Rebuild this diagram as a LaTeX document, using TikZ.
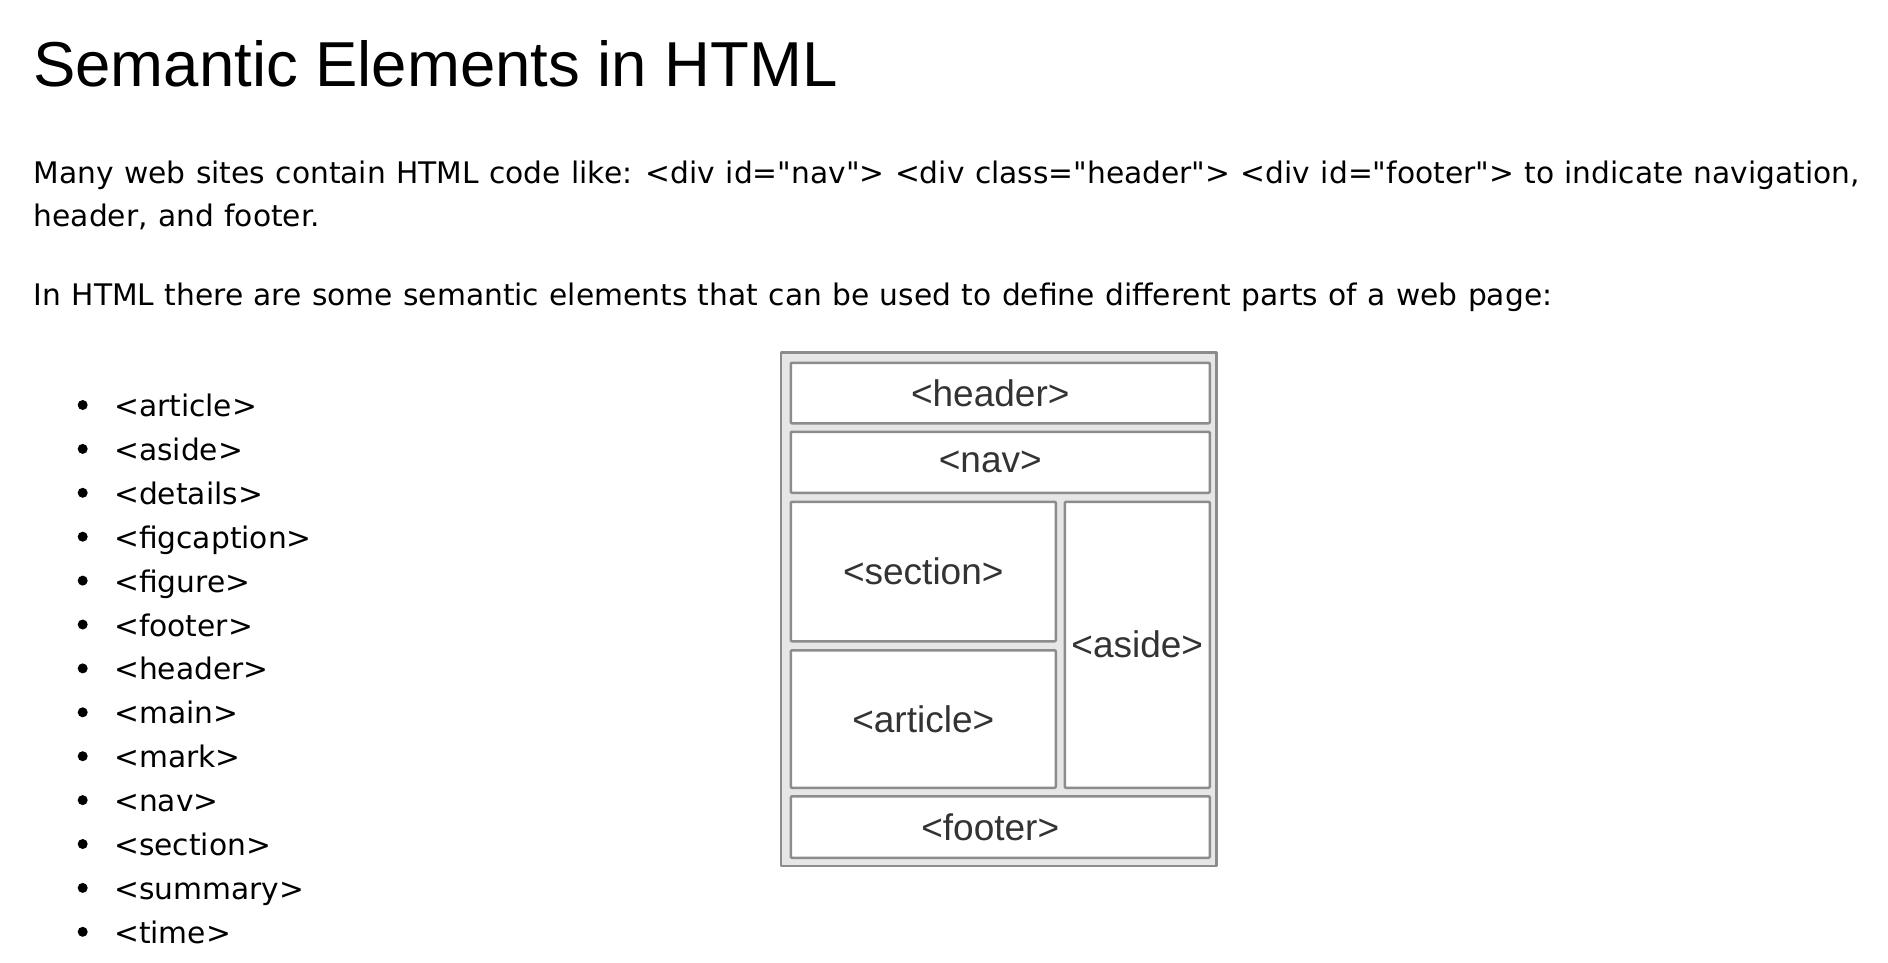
\documentclass[tikz,border=0pt]{standalone}
\usepackage{fontspec}
\setmainfont{DejaVu Sans}
\newfontfamily\arialfont{Liberation Sans}
\definecolor{framegray}{RGB}{140,140,140}
\definecolor{framefill}{RGB}{230,230,230}
\definecolor{labelgray}{RGB}{51,51,51}
\tikzset{
    bodytext/.style={anchor=base west, inner sep=0pt, font=\fontsize{29.7}{34}\selectfont, execute at begin node={\spaceskip=0.35em\relax}},
    region/.style={draw=framegray, line width=2.5pt, fill=white, anchor=north west, inner sep=0pt, rounded corners=1pt},
    regionlabel/.style={font=\arialfont\fontsize{37}{44}\selectfont, text=labelgray, inner sep=0pt},
}
\newcommand{\qt}{\textquotedbl}
\begin{document}
\begin{tikzpicture}[x=1pt, y=-1pt, line join=round]
    \useasboundingbox[fill=white] (0,0) rectangle (1888,962);

    \node[anchor=base west, inner sep=0pt, font=\arialfont\fontsize{63.5}{76}\selectfont] (title) at (33,86.5) {Semantic Elements in HTML};
    \node[bodytext] (intro) at (33.5,183.3) {Many web sites contain HTML code like: <div id=\qt nav\qt> <div class=\qt header\qt> <div id=\qt footer\qt> to indicate navigation,};
    \node[bodytext] (introend) at (33.5,226.5) {header, and footer.};
    \node[bodytext] (lead) at (33.5,305.5) {In HTML there are some semantic elements that can be used to define different parts of a web page:};

    % list of elements
    \foreach \tag [count=\k from 0] in {article,aside,details,figcaption,figure,footer,header,main,mark,nav,section,summary,time}{
        \fill (82.7,{416.5+43.9*\k-11.5}) circle (5pt);
        \node[bodytext] (item-\tag) at (114,{416.5+43.9*\k}) {<\tag>};
    }

    % page layout sketch
    \draw[draw=framegray, fill=framefill, line width=2.5pt] (781,352.5) rectangle (1216.5,866);
    \node[region, minimum width=419pt, minimum height=60.5pt, label={[regionlabel, xshift=-10pt]center:<header>}] (header) at (789.5,361.5) {};
    \node[region, minimum width=419pt, minimum height=61pt, label={[regionlabel, xshift=-10pt]center:<nav>}] (nav) at (789.5,430.5) {};
    \node[region, minimum width=265pt, minimum height=139.5pt, label={[regionlabel]center:<section>}] (section) at (789.5,500.5) {};
    \node[region, minimum width=265pt, minimum height=137.5pt, label={[regionlabel]center:<article>}] (article) at (789.5,649) {};
    \node[region, minimum width=145pt, minimum height=286pt, label={[regionlabel]center:<aside>}] (aside) at (1063.5,500.5) {};
    \node[region, minimum width=419pt, minimum height=61.5pt, label={[regionlabel, xshift=-10pt]center:<footer>}] (footer) at (789.5,795) {};
\end{tikzpicture}
\end{document}
